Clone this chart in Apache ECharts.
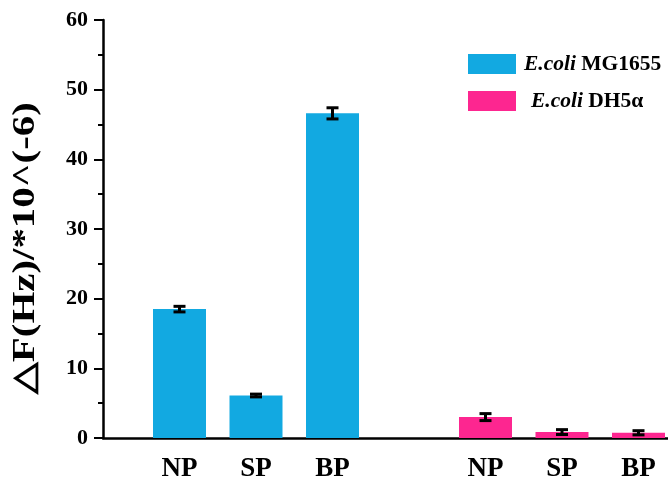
<!DOCTYPE html>
<html>
<head>
<meta charset="utf-8">
<script src="https://cdn.jsdelivr.net/npm/echarts@6/dist/echarts.min.js"></script>
<style>
  html, body { margin: 0; padding: 0; background: #fff; }
  #chart { width: 668px; height: 483px; }
</style>
</head>
<body>
<div id="chart"></div>
<script>
// Sample groups shown for each strain
const groups = ['NP', 'SP', 'BP'];

// Frequency shift, ΔF (Hz, ×10^-6), with error bars
const mg1655 = [18.5, 6.1, 46.6];
const mg1655Err = [0.4, 0.2, 0.8];
const dh5a = [3.0, 0.85, 0.75];
const dh5aErr = [0.5, 0.35, 0.3];

// Y-axis ticks
const yMin = 0, yMax = 60, yStep = 10;
const yTitle = '△F(Hz)/*10^(-6)';

const seriesNames = ['E.coli MG1655', 'E.coli DH5α'];
const colors = ['#12a9e1', '#fd2690'];
const serif = '"Liberation Serif", "Times New Roman", serif';

// Category slots: an empty slot at each end and one between the two strains
const categories = [''].concat(groups, [''], groups, ['']);
const firstStart = 1;
const secondStart = 1 + groups.length + 1;

function placeValues(values, start) {
  const out = categories.map(() => null);
  values.forEach((v, i) => { out[start + i] = v; });
  return out;
}
function errorData(values, errs, start) {
  return values.map((v, i) => [start + i, v, errs[i]]);
}

const errorItems = errorData(mg1655, mg1655Err, firstStart)
  .concat(errorData(dh5a, dh5aErr, secondStart));

const chart = echarts.init(document.getElementById('chart'), null, { renderer: 'canvas' });

chart.setOption({
  animation: false,
  backgroundColor: '#fff',
  grid: { left: 103, right: -47, top: 20, bottom: 45, outerBoundsMode: 'none', containLabel: false },
  // Vertical axis title, widened along its reading direction
  graphic: [{
    type: 'text',
    x: 26,
    y: 248,
    rotation: Math.PI / 2,
    scaleX: 1.32,
    style: {
      text: yTitle,
      font: 'bold 31px ' + serif,
      fill: '#000',
      align: 'center',
      verticalAlign: 'middle',
      textAlign: 'center',
      textVerticalAlign: 'middle'
    }
  }],
  legend: {
    orient: 'vertical',
    left: 468,
    top: 53,
    padding: 0,
    itemWidth: 48,
    itemHeight: 20,
    itemGap: 15,
    icon: 'rect',
    data: seriesNames,
    formatter: function (name) {
      const parts = name.split(' ');
      const lead = name === seriesNames[0] ? '{p1|}' : '{p2|}';
      return lead + '{i|' + parts[0] + '} {b|' + parts.slice(1).join(' ') + '}';
    },
    textStyle: {
      fontFamily: serif, fontSize: 21.5, fontWeight: 'bold', color: '#000',
      rich: {
        p1: { width: 3 },
        p2: { width: 10 },
        i: { fontFamily: serif, fontSize: 21.5, fontWeight: 'bold', fontStyle: 'italic', color: '#000' },
        b: { fontFamily: serif, fontSize: 21.5, fontWeight: 'bold', color: '#000' }
      }
    }
  },
  xAxis: {
    type: 'category',
    data: categories,
    boundaryGap: false,
    axisLine: { show: true, lineStyle: { color: '#000', width: 2.5 } },
    axisTick: { show: false },
    splitLine: { show: false },
    axisLabel: {
      interval: 0,
      margin: 18,
      fontFamily: serif, fontSize: 27, fontWeight: 'bold', color: '#000'
    }
  },
  yAxis: {
    type: 'value',
    min: yMin, max: yMax, interval: yStep,
    axisLine: { show: true, lineStyle: { color: '#000', width: 2.5 } },
    axisTick: { show: true, inside: false, length: 9, lineStyle: { color: '#000', width: 2 } },
    minorTick: { show: true, splitNumber: 2, length: 5, lineStyle: { color: '#000', width: 2 } },
    splitLine: { show: false },
    minorSplitLine: { show: false },
    axisLabel: { margin: 15, fontFamily: serif, fontSize: 22, fontWeight: 'bold', color: '#000' }
  },
  series: [
    {
      name: seriesNames[0],
      type: 'bar',
      data: placeValues(mg1655, firstStart),
      barWidth: 53,
      barGap: '-100%',
      itemStyle: { color: colors[0] }
    },
    {
      name: seriesNames[1],
      type: 'bar',
      data: placeValues(dh5a, secondStart),
      barWidth: 53,
      barGap: '-100%',
      itemStyle: { color: colors[1] }
    },
    {
      name: 'error',
      type: 'custom',
      data: errorItems,
      z: 10,
      renderItem: function (params, api) {
        const x = api.value(0), v = api.value(1), e = api.value(2);
        const top = api.coord([x, v + e]);
        const bot = api.coord([x, v - e]);
        const half = 6;
        const style = { stroke: '#000', lineWidth: 3, fill: null };
        return {
          type: 'group',
          children: [
            { type: 'line', shape: { x1: top[0], y1: top[1], x2: bot[0], y2: bot[1] }, style: style },
            { type: 'line', shape: { x1: top[0] - half, y1: top[1], x2: top[0] + half, y2: top[1] }, style: style },
            { type: 'line', shape: { x1: bot[0] - half, y1: bot[1], x2: bot[0] + half, y2: bot[1] }, style: style }
          ]
        };
      }
    }
  ]
});
</script>
</body>
</html>
